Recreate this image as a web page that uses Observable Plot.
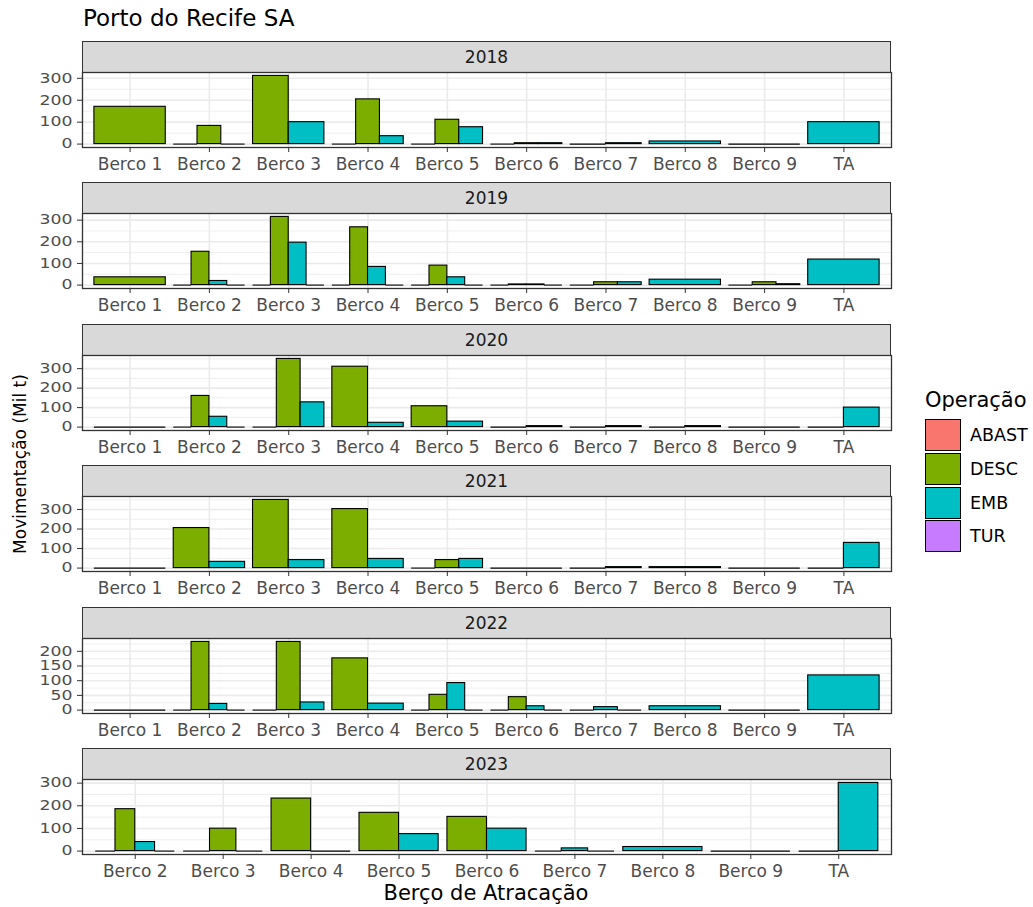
<!DOCTYPE html>
<html><head><meta charset="utf-8">
<script src="https://cdn.jsdelivr.net/npm/d3@7"></script>
<script src="https://cdn.jsdelivr.net/npm/@observablehq/plot@0.6"></script>
<style>
body{margin:0;background:#fff;}
#chart{position:relative;width:1033px;height:907px;font-family:"DejaVu Sans",sans-serif;overflow:hidden;background:#fff}
.strip{position:absolute;left:82px;width:809px;height:32px;background:#d9d9d9;border:1.3px solid #333;box-sizing:border-box;display:flex;align-items:center;justify-content:center;font-size:17px;color:#1a1a1a}
#chart svg text{fill:#4d4d4d}
.lab{position:absolute;white-space:nowrap;color:#000}
</style></head><body><div id="chart"></div>
<script>
const chartTitle = "Porto do Recife SA";
const xTitle = "Berço de Atracação";
const yTitle = "Movimentação (Mil t)";
const legendTitle = "Operação";
const operations = ["ABAST", "DESC", "EMB", "TUR"];
const opColors = ["#F8766D", "#7CAE00", "#00BFC4", "#C77CFF"];
const years = ["2018", "2019", "2020", "2021", "2022", "2023"];
const berths = ["Berco 1","Berco 2","Berco 3","Berco 4","Berco 5","Berco 6","Berco 7","Berco 8","Berco 9","TA"];
const berths2023 = ["Berco 2","Berco 3","Berco 4","Berco 5","Berco 6","Berco 7","Berco 8","Berco 9","TA"];

const rows2018 = [
  ["Berco 1","DESC",170],
  ["Berco 2","ABAST",0],["Berco 2","DESC",83],["Berco 2","EMB",0],
  ["Berco 3","DESC",311],["Berco 3","EMB",100],
  ["Berco 4","ABAST",0],["Berco 4","DESC",204],["Berco 4","EMB",36],
  ["Berco 5","ABAST",0],["Berco 5","DESC",111],["Berco 5","EMB",77],
  ["Berco 6","ABAST",0],["Berco 6","DESC",4],["Berco 6","EMB",4],
  ["Berco 7","DESC",0],["Berco 7","EMB",4],
  ["Berco 8","EMB",12],
  ["Berco 9","ABAST",0],
  ["TA","EMB",100]
];
const rows2019 = [
  ["Berco 1","DESC",36],
  ["Berco 2","ABAST",0],["Berco 2","DESC",154],["Berco 2","EMB",19],["Berco 2","TUR",0],
  ["Berco 3","ABAST",0],["Berco 3","DESC",315],["Berco 3","EMB",196],["Berco 3","TUR",0],
  ["Berco 4","ABAST",0],["Berco 4","DESC",267],["Berco 4","EMB",84],["Berco 4","TUR",0],
  ["Berco 5","ABAST",0],["Berco 5","DESC",90],["Berco 5","EMB",36],["Berco 5","TUR",0],
  ["Berco 6","ABAST",0],["Berco 6","DESC",3],["Berco 6","EMB",3],["Berco 6","TUR",0],
  ["Berco 7","ABAST",0],["Berco 7","DESC",13],["Berco 7","EMB",13],
  ["Berco 8","EMB",25],
  ["Berco 9","ABAST",0],["Berco 9","DESC",13],["Berco 9","EMB",4],
  ["TA","EMB",118]
];
const rows2020 = [
  ["Berco 1","ABAST",0],
  ["Berco 2","ABAST",0],["Berco 2","DESC",160],["Berco 2","EMB",53],["Berco 2","TUR",0],
  ["Berco 3","ABAST",0],["Berco 3","DESC",350],["Berco 3","EMB",127],
  ["Berco 4","DESC",310],["Berco 4","EMB",22],
  ["Berco 5","DESC",107],["Berco 5","EMB",28],
  ["Berco 6","DESC",0],["Berco 6","EMB",5],
  ["Berco 7","DESC",0],["Berco 7","EMB",5],
  ["Berco 8","DESC",0],["Berco 8","EMB",5],
  ["Berco 9","ABAST",0],
  ["TA","DESC",0],["TA","EMB",100]
];
const rows2021 = [
  ["Berco 1","ABAST",0],
  ["Berco 2","DESC",205],["Berco 2","EMB",32],
  ["Berco 3","DESC",349],["Berco 3","EMB",41],
  ["Berco 4","DESC",302],["Berco 4","EMB",47],
  ["Berco 5","ABAST",0],["Berco 5","DESC",41],["Berco 5","EMB",47],
  ["Berco 6","ABAST",0],
  ["Berco 7","DESC",0],["Berco 7","EMB",5],
  ["Berco 8","EMB",5],
  ["Berco 9","ABAST",0],
  ["TA","DESC",0],["TA","EMB",129]
];
const rows2022 = [
  ["Berco 1","ABAST",0],
  ["Berco 2","ABAST",0],["Berco 2","DESC",232],["Berco 2","EMB",21],["Berco 2","TUR",0],
  ["Berco 3","ABAST",0],["Berco 3","DESC",232],["Berco 3","EMB",26],
  ["Berco 4","DESC",176],["Berco 4","EMB",22],
  ["Berco 5","ABAST",0],["Berco 5","DESC",52],["Berco 5","EMB",92],["Berco 5","TUR",0],
  ["Berco 6","ABAST",0],["Berco 6","DESC",44],["Berco 6","EMB",13],["Berco 6","TUR",0],
  ["Berco 7","ABAST",0],["Berco 7","EMB",10],["Berco 7","TUR",0],
  ["Berco 8","EMB",13],
  ["Berco 9","ABAST",0],
  ["TA","EMB",118]
];
const rows2023 = [
  ["Berco 2","ABAST",0],["Berco 2","DESC",185],["Berco 2","EMB",40],["Berco 2","TUR",0],
  ["Berco 3","ABAST",0],["Berco 3","DESC",99],["Berco 3","EMB",0],
  ["Berco 4","DESC",232],["Berco 4","EMB",0],
  ["Berco 5","DESC",169],["Berco 5","EMB",75],
  ["Berco 6","DESC",151],["Berco 6","EMB",99],
  ["Berco 7","ABAST",0],["Berco 7","EMB",12],["Berco 7","TUR",0],
  ["Berco 8","EMB",18],
  ["Berco 9","ABAST",0],
  ["TA","DESC",0],["TA","EMB",301]
];

const facetCats = [berths, berths, berths, berths, berths, berths2023];
const facetRows = [rows2018, rows2019, rows2020, rows2021, rows2022, rows2023];

const chart = document.getElementById("chart");
function addLabel(text, css) {
  const d = document.createElement("div");
  d.className = "lab";
  d.textContent = text;
  Object.assign(d.style, css);
  chart.appendChild(d);
  return d;
}

const PITCH = 141.4, STRIP_TOP0 = 41, STRIP_H = 32, PANEL_H = 75;

facetRows.forEach((rows, i) => {
  const cats = facetCats[i];
  const stripTop = STRIP_TOP0 + i * PITCH;
  const panelTop = stripTop + STRIP_H - 1;
  const strip = document.createElement("div");
  strip.className = "strip";
  strip.style.top = stripTop + "px";
  strip.textContent = years[i];
  chart.appendChild(strip);

  const M = d3.max(rows, r => r[2]);
  const majors = d3.ticks(0, M, 4);
  const step = majors[1] - majors[0];
  const lo = -0.05 * M, hi = 1.05 * M;
  const minors = d3.range(majors[0] - step / 2, hi, step).filter(v => v > lo && v < hi);

  const data = [];
  cats.forEach((c, ci) => {
    const g = rows.filter(r => r[0] === c)
      .sort((a, b) => operations.indexOf(a[1]) - operations.indexOf(b[1]));
    const w = 0.9 / g.length;
    g.forEach((r, k) => {
      const x1 = ci + 1 - 0.45 + k * w;
      data.push({berth: c, op: r[1], value: r[2], x1, x2: x1 + w});
    });
  });
  const bars = data.filter(d => d.value > 0);
  const zeros = data.filter(d => d.value === 0);
  const idx = d3.range(1, cats.length + 1);

  const svg = Plot.plot({
    width: 900, height: PANEL_H + 2 + 30,
    marginLeft: 82, marginRight: 9, marginTop: 2, marginBottom: 30,
    style: {fontFamily: "DejaVu Sans", fontSize: "17px", color: "#333", background: "transparent", overflow: "visible"},
    x: {domain: [0.4, cats.length + 0.6]},
    y: {domain: [lo, hi]},
    color: {domain: operations, range: opColors},
    marks: [
      Plot.gridY(minors, {stroke: "#ebebeb", strokeOpacity: 1, strokeWidth: 0.8}),
      Plot.gridY(majors, {stroke: "#ebebeb", strokeOpacity: 1, strokeWidth: 1.6}),
      Plot.gridX(idx, {stroke: "#ebebeb", strokeOpacity: 1, strokeWidth: 1.6}),
      Plot.rect(bars, {x1: "x1", x2: "x2", y1: 0, y2: "value", fill: "op", stroke: "black", strokeWidth: 1.1}),
      Plot.ruleY(zeros, {x1: "x1", x2: "x2", y: 0, stroke: "black", strokeWidth: 1.1}),
      Plot.axisX(idx, {tickFormat: v => cats[v - 1], tickSize: 5, tickPadding: 5, label: null, stroke: "#333"}),
      Plot.axisY(majors, {tickSize: 5, tickPadding: 5, label: null, stroke: "#333", fontSize: 13.5}),
      Plot.frame({stroke: "#333", strokeWidth: 1.3})
    ]
  });
  svg.style.position = "absolute";
  svg.style.left = "0px";
  svg.style.top = (panelTop - 2) + "px";
  chart.appendChild(svg);
  // widen y tick labels horizontally (the reference text is horizontally stretched)
  svg.querySelectorAll('g[aria-label="y-axis tick label"] text').forEach(t => {
    const L = t.getComputedTextLength();
    t.setAttribute("textLength", (L * 1.28).toFixed(1));
    t.setAttribute("lengthAdjust", "spacingAndGlyphs");
  });
});

// titles
addLabel(chartTitle, {left: "83px", top: "5px", fontSize: "23px"});
addLabel(xTitle, {left: "486px", top: "881px", fontSize: "21px", transform: "translateX(-50%)"});
addLabel(yTitle, {left: "20px", top: "464px", fontSize: "17px", transform: "translate(-50%,-50%) rotate(-90deg)"});

// legend
addLabel(legendTitle, {left: "925px", top: "388px", fontSize: "21px"});
operations.forEach((op, j) => {
  const top = 419 + j * 33.8;
  const key = document.createElement("div");
  Object.assign(key.style, {position: "absolute", left: "925px", top: top + "px", width: "36px", height: "32px",
    background: opColors[j], border: "1.2px solid #000", boxSizing: "border-box"});
  chart.appendChild(key);
  addLabel(op, {left: "970px", top: (top + 16) + "px", fontSize: "17.5px", transform: "translateY(-50%)"});
});
</script>
</body></html>
